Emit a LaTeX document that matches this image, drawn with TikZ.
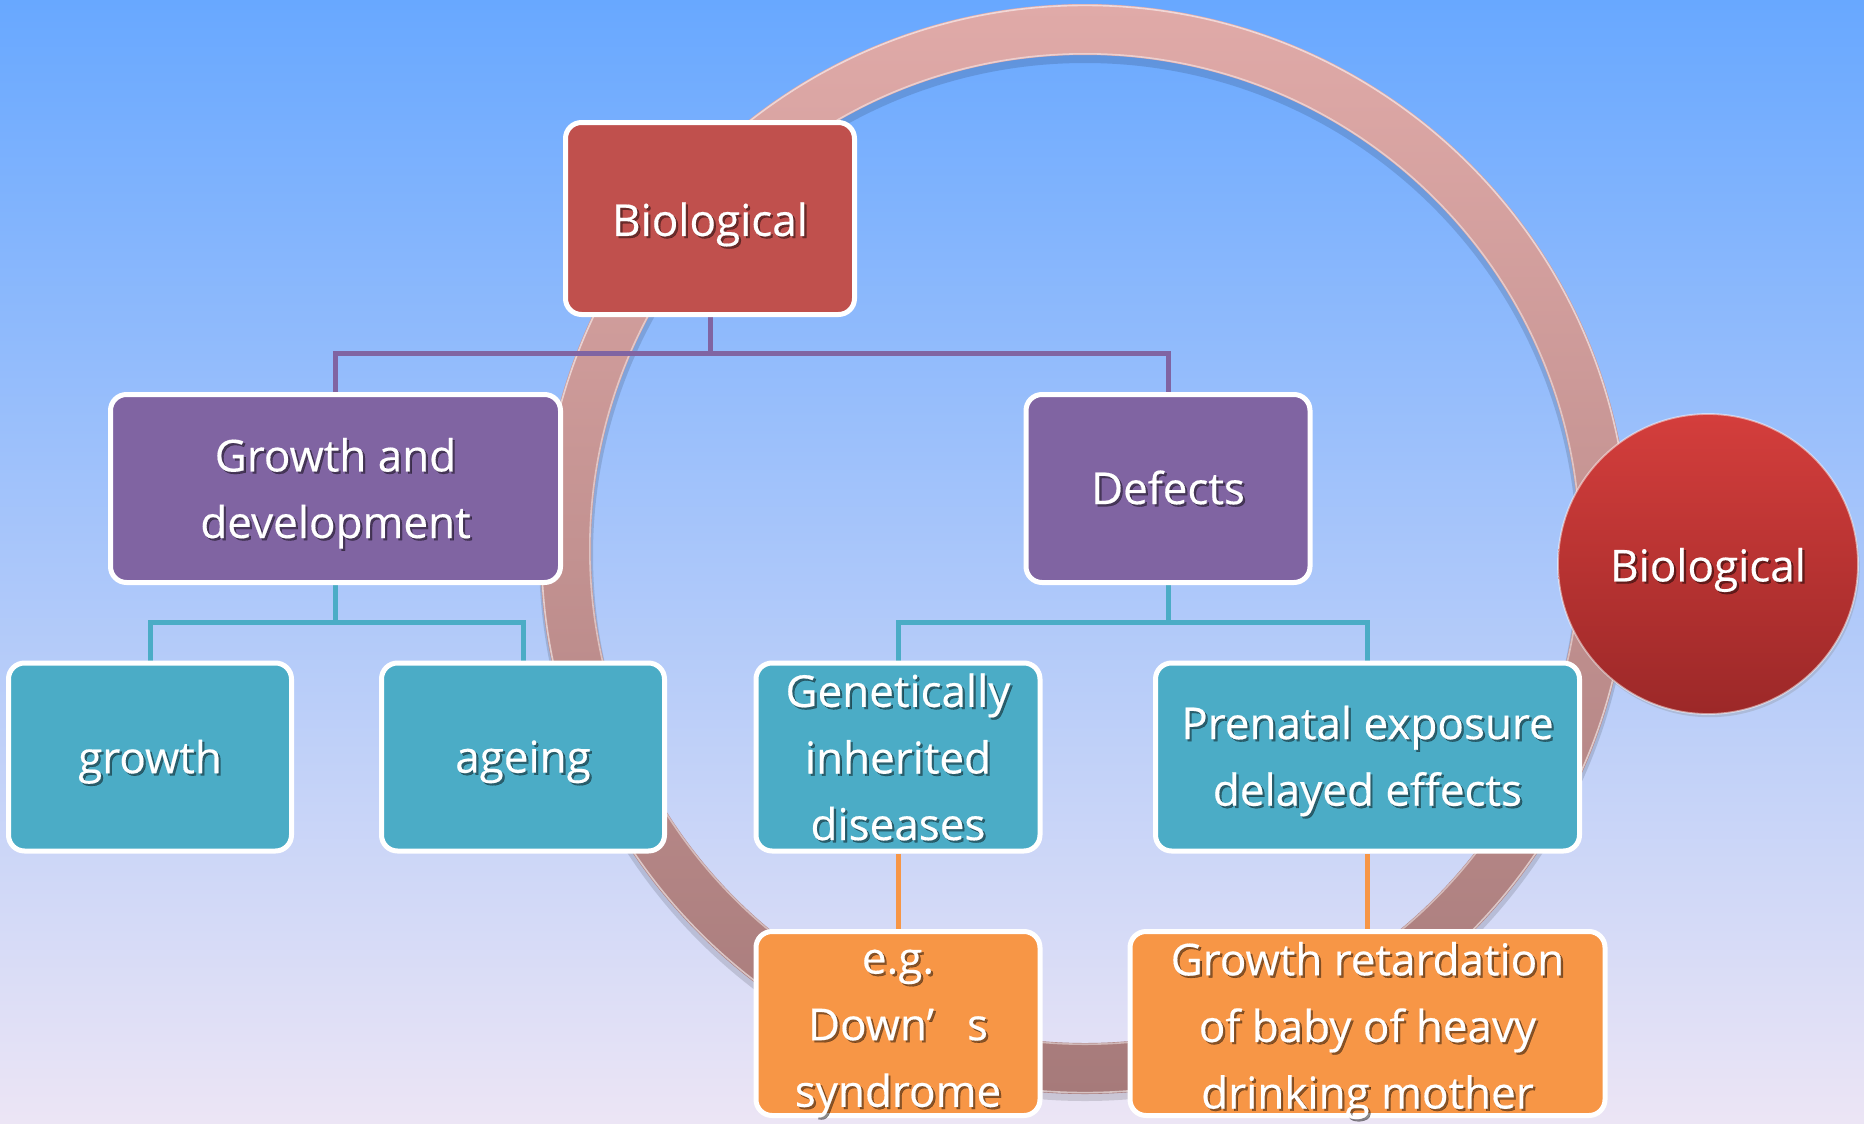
\documentclass[tikz,border=0pt]{standalone}
\usepackage{fontspec}
\setmainfont{Open Sans}
\newfontfamily\boxfont{Open Sans}[FakeBold=0.35]
\usetikzlibrary{shadows}

\definecolor{bgtop}{RGB}{104,168,255}
\definecolor{bgmid}{RGB}{158,199,247}
\definecolor{bgbot}{RGB}{236,229,245}
\definecolor{ringtop}{RGB}{224,170,168}
\definecolor{ringbot}{RGB}{166,122,122}
\definecolor{cred}{RGB}{192,80,77}
\definecolor{cpurple}{RGB}{128,100,162}
\definecolor{cteal}{RGB}{75,172,198}
\definecolor{corange}{RGB}{247,150,70}
\definecolor{balltop}{RGB}{212,62,60}
\definecolor{ballbot}{RGB}{156,40,40}

\pgfdeclarelayer{bg}
\pgfdeclarelayer{conn}
\pgfsetlayers{bg,conn,main}

\tikzset{
  box/.style={draw=white, line width=2.5pt, rounded corners=8pt, inner sep=0pt,
              minimum height=94pt},
  redbox/.style={box, fill=cred},
  purplebox/.style={box, fill=cpurple},
  tealbox/.style={box, fill=cteal},
  orangebox/.style={box, fill=corange, minimum height=92pt},
  txt/.style={text=white, align=center, inner sep=0pt,
              font=\boxfont\fontsize{22}{33.3}\selectfont},
  txtsh/.style={txt, text=black, text opacity=0.45},
  pline/.style={draw=cpurple, line width=2.5pt},
  tline/.style={draw=cteal, line width=2.5pt},
  oline/.style={draw=corange, line width=2.5pt},
}

% a shape with white text that casts a small dark shadow;
% #5 moves the text down inside the shape
\newcommand\shnode[5]{%
  \node[#2] (#1) at #3 {};
  \node[txtsh] (#1-sh) at ([xshift=1.1pt,yshift=-1.1pt-#5]#1.center) {#4};
  \node[txt] (#1-tx) at ([yshift=-#5]#1.center) {#4};
}

\begin{document}
\begin{tikzpicture}[x=0.5pt, y=-0.5pt]
\useasboundingbox (0,0) rectangle (1864,1124);

\begin{pgfonlayer}{bg}
  % sky-like backdrop
  \shade[top color=bgtop, middle color=bgmid, bottom color=bgbot]
    (0,0) rectangle (1864,1124);
  % soft shadow of the ring
  \fill[even odd rule, black, opacity=0.13]
    (1085,555) circle[radius=273pt] (1085,555) circle[radius=246pt];
  % the ring
  \shade[even odd rule, top color=ringtop, bottom color=ringbot]
    (1085,549) circle[radius=272.5pt] (1085,549) circle[radius=247pt];
  \draw[white, opacity=0.55, line width=0.8pt] (1085,549) circle[radius=271.8pt];
  \draw[white, opacity=0.45, line width=0.8pt] (1085,549) circle[radius=247.6pt];
\end{pgfonlayer}

% top of the tree
\shnode{top}{redbox, minimum width=144.5pt, minimum height=96pt}{(710,218.5)}{Biological}{3pt}

% second level
\shnode{gd}{purplebox, minimum width=225pt}{(335.5,488.5)}{Growth and\\development}{2.4pt}
\shnode{def}{purplebox, minimum width=142pt}{(1168,488.5)}{Defects}{-0.5pt}

% third level
\shnode{growth}{tealbox, minimum width=141.5pt}{(150,757)}{growth}{2.4pt}
\shnode{ageing}{tealbox, minimum width=141.5pt}{(523,757)}{ageing}{2.4pt}
\shnode{gen}{tealbox, minimum width=142pt}{(898,757)}{Genetically\\inherited\\diseases}{0pt}
\shnode{pre}{tealbox, minimum width=212pt}{(1367.5,757)}{Prenatal exposure\\delayed effects}{2pt}

% examples
\shnode{eg}{orangebox, minimum width=142pt}{(898,1023.5)}{e.g.\\Down’\hspace{0.75em}s\\syndrome}{5pt}
\shnode{gr}{orangebox, minimum width=237.5pt}{(1367.5,1023.5)}{Growth retardation\\of baby of heavy\\drinking mother}{3.5pt}

% red ball on the ring
\node[circle, minimum size=150pt, inner sep=0pt, top color=balltop, bottom color=ballbot,
      draw=white, draw opacity=0.5, line width=0.9pt,
      drop shadow={opacity=0.25, shadow xshift=0.8pt, shadow yshift=-1.6pt}]
  (ball) at (1708,564) {};
\node[txtsh] (ball-sh) at ([xshift=1.1pt,yshift=-4.1pt]ball.center) {Biological};
\node[txt] (ball-tx) at ([yshift=-3pt]ball.center) {Biological};

% connectors
\begin{pgfonlayer}{conn}
  \coordinate (j1) at (710,353);
  \draw[pline] (top.south) -- (j1);
  \draw[pline] (gd.north) |- (j1) -| (def.north);
  \coordinate (j2) at (335.5,622);
  \draw[tline] (gd.south) -- (j2);
  \draw[tline] (growth.north) |- (j2) -| (ageing.north);
  \coordinate (j3) at (1168,622);
  \draw[tline] (def.south) -- (j3);
  \draw[tline] (gen.north) |- (j3) -| (pre.north);
  \draw[oline] (gen.south) -- (eg.north);
  \draw[oline] (pre.south) -- (gr.north);
\end{pgfonlayer}
\end{tikzpicture}
\end{document}
